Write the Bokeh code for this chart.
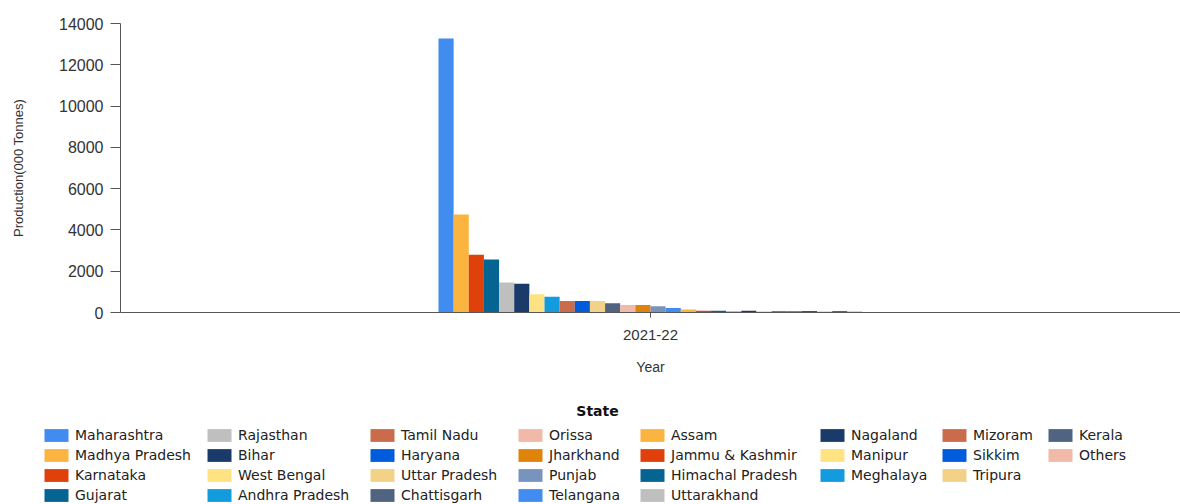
from bokeh.plotting import figure
from bokeh.layouts import column
from bokeh.models import (ColumnDataSource, FactorRange, Range1d, Legend, LegendItem,
                          Label, SingleIntervalTicker)
from bokeh.transform import dodge
from bokeh.embed import file_html
from bokeh.resources import INLINE

years = ["2021-22"]
states = ["Maharashtra", "Madhya Pradesh", "Karnataka", "Gujarat", "Rajasthan", "Bihar",
          "West Bengal", "Andhra Pradesh", "Tamil Nadu", "Haryana", "Uttar Pradesh",
          "Chattisgarh", "Orissa", "Jharkhand", "Punjab", "Telangana", "Assam",
          "Jammu & Kashmir", "Himachal Pradesh", "Uttarakhand", "Nagaland", "Manipur",
          "Meghalaya", "Mizoram", "Sikkim", "Tripura", "Kerala", "Others"]
production = [13270, 4750, 2800, 2570, 1450, 1390, 890, 760, 560, 560, 560, 450, 360, 360,
              300, 220, 150, 90, 85, 70, 80, 70, 70, 70, 75, 65, 75, 55]

palette = ["#418CF0", "#FCB441", "#E0400A", "#056492", "#BFBFBF", "#1A3B69", "#FFE382",
           "#129CDD", "#CA6B4B", "#005CDB", "#F3D288", "#506381", "#F1B9A8", "#E0830A",
           "#7893BE"]
colors = [palette[i % len(palette)] for i in range(len(states))]

# legend grid: number of entries per column, and column x positions
legend_cols = [4, 4, 4, 4, 4, 3, 3, 2]
legend_x = [41, 204, 367, 515, 637, 817, 939, 1045]

# ---------------- main chart ----------------
p = figure(width=1180, height=390, x_range=FactorRange(factors=years),
           y_range=Range1d(0, 14000), output_backend="svg", toolbar_location=None,
           min_border_left=120, min_border_right=0, min_border_top=23,
           min_border_bottom=78)
p.frame_align = False
p.outline_line_color = None
p.xgrid.visible = False
p.ygrid.visible = False

n = len(states)
bw = 0.4 / n
for i, (s, v) in enumerate(zip(states, production)):
    src = ColumnDataSource(data=dict(year=years, value=[v]))
    p.vbar(x=dodge("year", (i - (n - 1) / 2) * bw, range=p.x_range), top="value",
           width=bw, source=src, fill_color=colors[i], line_color=None)

for ax in (p.xaxis[0], p.yaxis[0]):
    ax.axis_line_color = "#555555"
    ax.major_tick_line_color = "#555555"
    ax.minor_tick_line_color = None
    ax.major_label_text_font = "Liberation Sans"
    ax.major_label_text_color = "#333333"
    ax.axis_label_text_font = "Liberation Sans"
    ax.axis_label_text_font_style = "normal"
    ax.axis_label_text_color = "#333333"

p.yaxis.ticker = SingleIntervalTicker(interval=2000)
p.yaxis.axis_label = "Production(000 Tonnes)"
p.yaxis.major_label_text_font_size = "16px"
p.yaxis.axis_label_text_font_size = "13px"
p.yaxis.major_tick_out = 10
p.yaxis.major_tick_in = 0
p.yaxis.major_label_standoff = 7
p.yaxis.axis_label_standoff = 30

p.xaxis.axis_label = "Year"
p.xaxis.major_label_text_font_size = "15px"
p.xaxis.axis_label_text_font_size = "14px"
p.xaxis.major_tick_out = 5
p.xaxis.major_tick_in = 0
p.xaxis.major_label_standoff = 12
p.xaxis.axis_label_standoff = 16

# ---------------- legend panel ----------------
LH = 114
q = figure(width=1180, height=LH, x_range=Range1d(0, 1), y_range=Range1d(0, 1),
           output_backend="svg", toolbar_location=None,
           min_border_left=0, min_border_right=0, min_border_top=0, min_border_bottom=0)
q.frame_align = False
q.axis.visible = False
q.xgrid.visible = False
q.ygrid.visible = False
q.outline_line_color = None

# swatch renderers for the legend (zero-size marks, only their colour is used)
swatches = [q.vbar(x=[0], top=[0], width=0, fill_color=c, line_color=None) for c in colors]

q.add_layout(Label(x=597, y=LH - 20, x_units="screen", y_units="screen", text="State",
                   text_font="DejaVu Sans", text_font_style="bold", text_font_size="14px",
                   text_align="center", text_baseline="middle", text_color="#111111"))

label_h, gap = 16, 4
start = 0
for cnt, x0 in zip(legend_cols, legend_x):
    its = [LegendItem(label=states[k], renderers=[swatches[k]])
           for k in range(start, start + cnt)]
    start += cnt
    h = cnt * label_h + (cnt - 1) * gap
    lg = Legend(items=its, orientation="vertical", location=(x0, LH - 37 - h),
                border_line_alpha=0, background_fill_alpha=0,
                label_text_font="DejaVu Sans", label_text_font_size="14px",
                label_text_color="#222222", glyph_width=30, glyph_height=16,
                label_standoff=4, spacing=gap, label_height=label_h, padding=0,
                margin=0)
    q.add_layout(lg, "center")

open("out.html", "w").write(file_html(column(p, q, spacing=0), INLINE))
